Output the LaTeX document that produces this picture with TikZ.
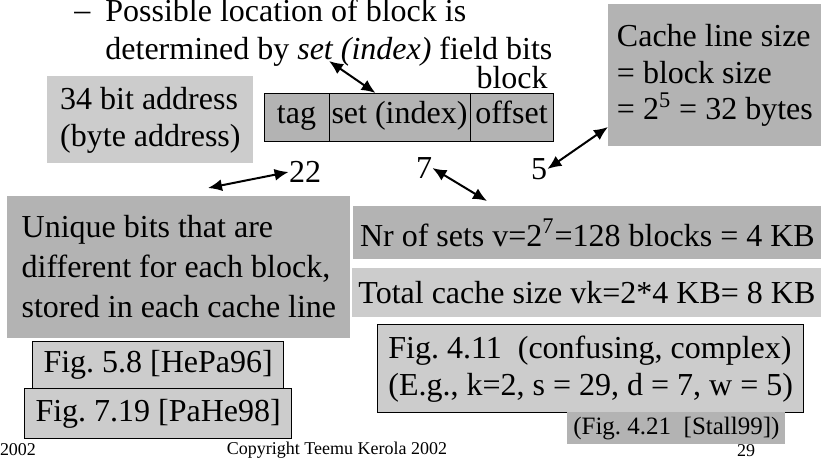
\documentclass[tikz,border=0pt]{standalone}
\usepackage{fontspec}
\setmainfont{Liberation Serif}
\usetikzlibrary{arrows.meta,positioning}
\definecolor{boxdark}{RGB}{179,179,179}
\definecolor{boxlight}{RGB}{204,204,204}
\frenchspacing

\begin{document}
\begin{tikzpicture}[x=0.5pt, y=-0.5pt,
        txt/.style={font=\fontsize{16}{18.5}\selectfont, inner sep=0pt},
        panel/.style={txt, anchor=north west, align=left, inner sep=0pt},
        dark/.style={panel, fill=boxdark},
        light/.style={panel, fill=boxlight},
        field/.style={txt, draw, line width=0.5pt, fill=boxdark, outer sep=0pt, minimum height=24pt,
          text height=10.5pt, text depth=4pt, anchor=north west},
        figbox/.style={txt, draw, line width=0.7pt, fill=boxlight, anchor=north west, align=left},
        foot/.style={font=\fontsize{9}{10}\selectfont, inner sep=0pt},
        link/.style={{Latex[length=7pt,width=6pt]}-{Latex[length=7pt,width=6pt]}, line width=1pt}
      ]
      \useasboundingbox (0,0) rectangle (821,462);

      % bullet text at the top
      \node[txt, anchor=base west] (dash) at (74,20) {--};
      \node[panel, font=\fontsize{16}{19}\selectfont] (loc) at (105,-1)
        {Possible location of block is\\determined by \textit{set (index)} field bits};

      % address and its fields
      \node[light, minimum width=103pt, minimum height=43.5pt] (addr) at (47,76)
        {34 bit address\\(byte address)};
      \node[field, minimum width=32.5pt] (tag) at (264,93) {tag};
      \node[field, minimum width=70.5pt, right=0pt of tag] (setf) {set (index)};
      \node[field, minimum width=41.5pt, right=0pt of setf] (offs) {offset};
      \node[txt, anchor=base east] (blk) at (548,88) {block};

      \node[dark, minimum width=106.5pt, minimum height=71pt,
        font=\fontsize{16}{18.25}\selectfont] (cache) at (608,4)
        {Cache line size\\= block size\\= 2\textsuperscript{5} = 32 bytes};

      % field widths
      \node[txt] (n22) at (305,172) {22};
      \node[txt] (n7) at (424,168) {7};
      \node[txt] (n5) at (539,169) {5};

      \node[dark, minimum width=171.5pt, minimum height=71pt, text depth=1.5pt,
        font=\fontsize{16}{20}\selectfont] (uniq) at (7,196)
        {Unique bits that are\\different for each block,\\stored in each cache line};
      \node[dark, minimum width=234pt, minimum height=26.5pt] (nsets) at (353,206)
        {Nr of sets v=2\textsuperscript{7}=128 blocks = 4 KB};
      \node[light, minimum width=234.5pt, minimum height=24.5pt] (total) at (352,268)
        {Total cache size vk=2*4 KB= 8 KB};

      % references
      \node[figbox, minimum width=213pt, minimum height=44pt] (f411) at (377,324)
        {Fig. 4.11\ \ (confusing, complex)\\(E.g., k=2, s = 29, d = 7, w = 5)};
      \node[dark, font=\fontsize{12.5}{14}\selectfont, minimum width=109pt, minimum height=16pt, align=center] (stall) at (567,412)
        {(Fig. 4.21\ \ [Stall99])};
      \node[figbox, minimum width=125.5pt, minimum height=23.5pt] (f58) at (32,341) {Fig. 5.8 [HePa96]};
      \node[figbox, minimum width=133.5pt, minimum height=25pt] (f719) at (24,388) {Fig. 7.19 [PaHe98]};

      % arrows
      \coordinate (setword) at (329,61);
      \coordinate (tagend) at (208,188);
      \coordinate (setsend) at (487,201);
      \coordinate (cacheend) at (608,127);
      \draw[link] (setword) -- (setf.135);
      \draw[link] (tagend) -- (n22.west);
      \draw[link] (n7.east) -- (setsend);
      \draw[link] (n5.east) -- (cacheend);

      % footer
      \node[foot] (year) at (18,450) {2002};
      \node[foot] (copy) at (337,450) {Copyright Teemu Kerola 2002};
      \node[foot] (page) at (746,451) {29};
    \end{tikzpicture}
\end{document}
